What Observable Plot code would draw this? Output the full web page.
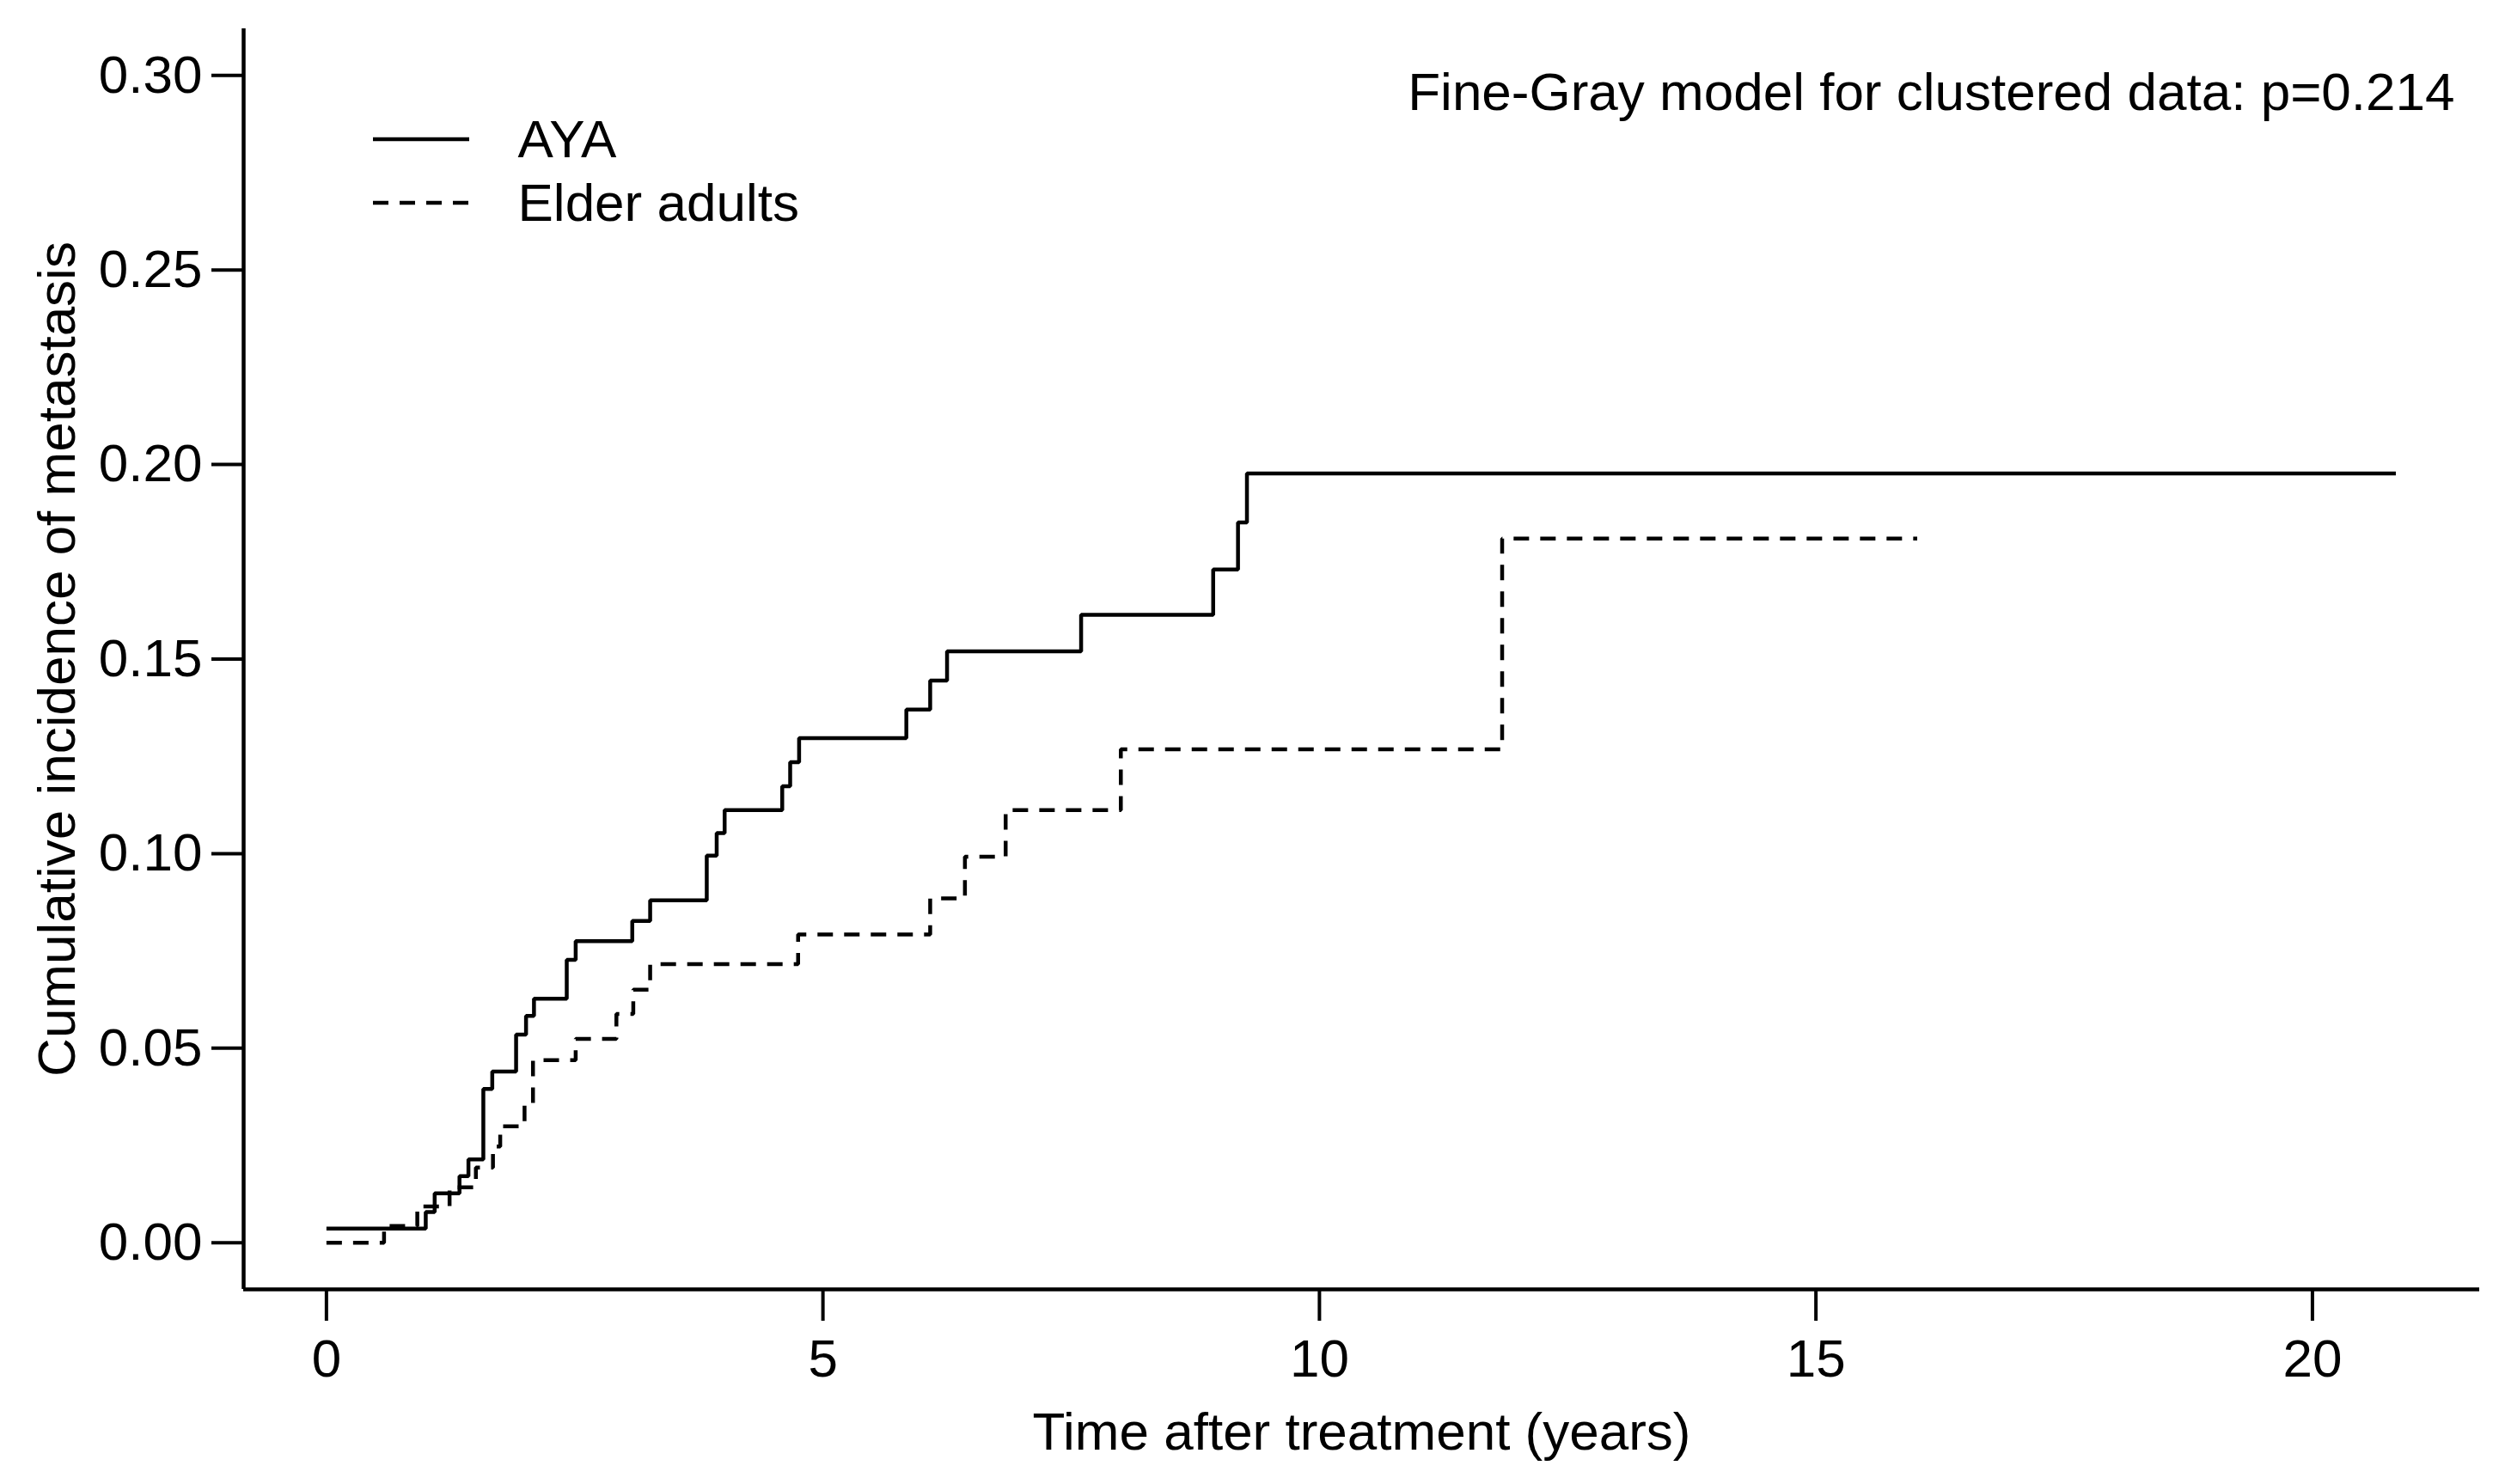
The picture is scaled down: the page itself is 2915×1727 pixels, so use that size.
<!DOCTYPE html>
<html><head><meta charset="utf-8">
<script src="https://cdn.jsdelivr.net/npm/d3@7"></script>
<script src="https://cdn.jsdelivr.net/npm/@observablehq/plot@0.6"></script>
<style>html,body{margin:0;padding:0;background:#fff;} #chart svg{display:block;}</style>
</head><body><div id="chart"></div>
<script>
// ---- data ----
const seriesNames = ["AYA", "Elder adults"];
const ayaTime  = [0, 1.00, 1.09, 1.34, 1.43, 1.58, 1.67, 1.91, 2.01, 2.09, 2.42, 2.51, 3.08, 3.26, 3.83, 3.93, 4.01, 4.59, 4.67, 4.76, 5.84, 6.08, 6.25, 7.60, 8.93, 9.18, 9.27, 20.84];
const ayaValue = [0.0036, 0.0079, 0.0127, 0.0171, 0.0214, 0.0395, 0.0440, 0.0535, 0.0583, 0.0627, 0.0727, 0.0775, 0.0827, 0.0880, 0.0995, 0.1053, 0.1112, 0.1173, 0.1235, 0.1297, 0.1370, 0.1445, 0.1520, 0.1614, 0.1730, 0.1851, 0.1977, 0.1977];
const elderTime  = [0, 0.58, 0.915, 1.24, 1.505, 1.677, 1.75, 1.995, 2.08, 2.51, 2.92, 3.09, 3.26, 4.75, 6.08, 6.43, 6.84, 8.00, 11.84, 16.02];
const elderValue = [0, 0.0043, 0.0093, 0.0142, 0.0193, 0.0247, 0.0299, 0.0356, 0.0469, 0.0524, 0.0588, 0.0650, 0.0716, 0.0792, 0.0885, 0.0992, 0.1112, 0.1268, 0.1810, 0.1810];
const xTicks = [0, 5, 10, 15, 20];
const yTicks = [0, 0.05, 0.10, 0.15, 0.20, 0.25, 0.30];
const xLabel = "Time after treatment (years)";
const yLabel = "Cumulative incidence of metastasis";
const annotation = "Fine-Gray model for clustered data: p=0.214";

// scale extents (R-style 4% padding around xlim c(0,20.85), ylim c(0,0.30))
const xDomain = [-0.834, 21.684];
const yDomain = [-0.012, 0.312];

const aya = ayaTime.map((t, i) => ({group: seriesNames[0], time: t, value: ayaValue[i]}));
const elder = elderTime.map((t, i) => ({group: seriesNames[1], time: t, value: elderValue[i]}));

const FS = 62;
const LW = 4.5;
const DASH = "18,13";

function legendLines(index, scales, values, dimensions) {
  const g = d3.create("svg:g");
  seriesNames.forEach((n, i) => {
    const y = dimensions.marginTop + 129 + 74 * i;
    g.append("line")
      .attr("x1", dimensions.marginLeft + 151).attr("x2", dimensions.marginLeft + 263)
      .attr("y1", y).attr("y2", y)
      .attr("stroke", "#000").attr("stroke-width", LW)
      .attr("stroke-dasharray", i ? DASH : null);
  });
  return g.node();
}

const plot = Plot.plot({
  width: 2915, height: 1727,
  marginLeft: 283, marginRight: 30, marginTop: 33, marginBottom: 227,
  style: {fontFamily: "'Liberation Sans', Arial, Helvetica, sans-serif", fontSize: FS + "px", background: "#fff", color: "#000"},
  x: {domain: xDomain},
  y: {domain: yDomain},
  marks: [
    Plot.axisX({ticks: xTicks, tickSize: 37, tickPadding: 20, strokeWidth: 4, label: null, fontSize: FS, tickFormat: d => String(d)}),
    Plot.axisY({ticks: yTicks, tickSize: 37, tickPadding: 11, strokeWidth: 4, label: null, fontSize: FS, tickFormat: d3.format(".2f")}),
    Plot.ruleX([xDomain[0]], {stroke: "#000", strokeWidth: LW}),
    Plot.ruleY([yDomain[0]], {stroke: "#000", strokeWidth: LW}),
    Plot.line(aya, {x: "time", y: "value", curve: "step-after", stroke: "#000", strokeWidth: LW, strokeLinejoin: "miter", strokeLinecap: "butt"}),
    Plot.line(elder, {x: "time", y: "value", curve: "step-after", stroke: "#000", strokeWidth: LW, strokeDasharray: DASH, strokeLinejoin: "miter", strokeLinecap: "butt"}),
    Plot.text([xLabel], {frameAnchor: "bottom", textAnchor: "middle", lineAnchor: "middle", dy: 167, fontSize: FS, fill: "#000"}),
    Plot.text([yLabel], {frameAnchor: "left", textAnchor: "middle", lineAnchor: "middle", rotate: -90, dx: -216, fontSize: FS, fill: "#000"}),
    Plot.text([annotation], {frameAnchor: "top-right", textAnchor: "end", lineAnchor: "middle", dx: -29, dy: 75, fontSize: FS, fill: "#000"}),
    ...seriesNames.map((name, i) => Plot.text([name], {frameAnchor: "top-left", textAnchor: "start", lineAnchor: "middle", dx: 319, dy: 130 + 74 * i, fontSize: FS, fill: "#000"})),
    legendLines
  ]
});
document.getElementById("chart").appendChild(plot);
</script>
</body></html>
